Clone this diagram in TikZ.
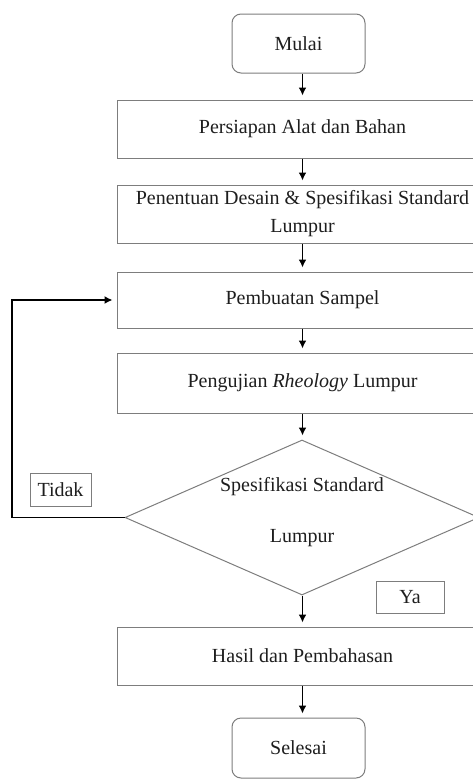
\documentclass[tikz,border=0pt]{standalone}
\usepackage{fontspec}
\setmainfont{Liberation Serif}
\usetikzlibrary{shapes.geometric,arrows.meta}
\definecolor{boxgray}{RGB}{125,125,125}
\definecolor{txt}{RGB}{30,30,30}
\begin{document}
\begin{tikzpicture}[x=1pt,y=-1pt,
  box/.style={draw=boxgray, line width=1pt, rectangle, minimum width=371pt,
    minimum height=58pt, inner sep=0pt, text=txt,
    font=\fontsize{20}{28}\selectfont, align=center},
  term/.style={box, rounded corners=9pt, minimum width=133pt, minimum height=59pt},
  dec/.style={draw=boxgray, line width=1pt, diamond, minimum width=354pt,
    minimum height=155pt, inner sep=0pt},
  dectext/.style={inner sep=0pt, text=txt,
    font=\fontsize{20}{51}\selectfont, align=center},
  lab/.style={draw=boxgray, line width=1pt, rectangle, inner sep=0pt, text=txt,
    font=\fontsize{20}{24}\selectfont},
  arr/.style={-{Latex[length=8pt,width=8pt]}, line width=1.8pt, black, shorten >=4pt},
]
\path[use as bounding box, clip] (0,0) rectangle (473,779);

\node[term] (start) at (298.5,43.5) {Mulai};
\node[box] (b1) at (302.5,129) {Persiapan Alat dan Bahan};
\node[box] (b2) at (302.5,214) {Penentuan Desain \& Spesifikasi Standard\\Lumpur};
\node[box, minimum height=56pt] (b3) at (302.5,300) {Pembuatan Sampel};
\node[box, minimum height=60pt] (b4) at (302.5,383) {Pengujian \textit{Rheology} Lumpur};
\node[dec] (d) at (302,517.5) {};
\node[dectext] (dt) at (302,512) {Spesifikasi Standard\\Lumpur};
\node[lab, minimum width=61pt, minimum height=33pt] (no) at (60.5,489.5) {Tidak};
\node[lab, minimum width=68pt, minimum height=32pt] (yes) at (410,597) {Ya};
\node[box] (b5) at (302.5,656) {Hasil dan Pembahasan};
\node[term, minimum height=60pt] (end) at (298.5,748) {Selesai};
\coordinate (loop) at (12,300);

\draw[arr] (start.south -| b1.north) -- (b1.north);
\draw[arr] (b1) -- (b2);
\draw[arr] (b2) -- (b3);
\draw[arr] (b3) -- (b4);
\draw[arr] (b4.south) -- (b4.south |- d.north);
\draw[arr] (d.south -| b5.north) -- (b5.north);
\draw[arr] (b5.south) -- (b5.south |- end.north);
\draw[arr, line width=1.5pt] (d.west) -- (d.west -| loop) |- (b3.west);
\end{tikzpicture}
\end{document}
